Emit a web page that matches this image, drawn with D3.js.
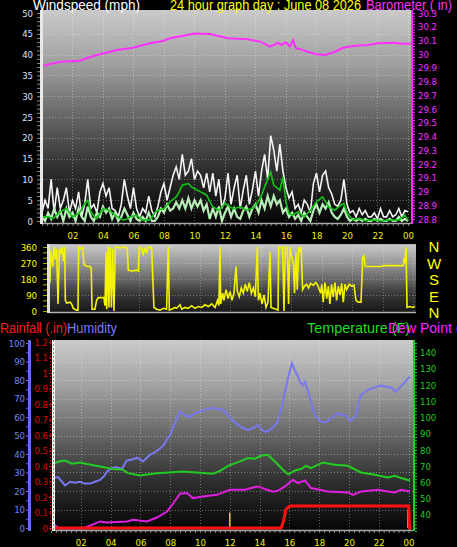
<!DOCTYPE html>
<html><head><meta charset="utf-8">
<script src="https://cdn.jsdelivr.net/npm/d3@7"></script>
<style>html,body{margin:0;padding:0;background:#000;overflow:hidden}svg{display:block}</style>
</head><body><svg id="c" width="457" height="547"></svg>
<script>
// ---------- DATA ----------
const timeTickHours = [2,4,6,8,10,12,14,16,18,20,22,24];
const timeTickLabels = ["02","04","06","08","10","12","14","16","18","20","22","00"];
const windTicks = [0,5,10,15,20,25,30,35,40,45,50];
const baroTicks = [28.8,28.9,29,29.1,29.2,29.3,29.4,29.5,29.6,29.7,29.8,29.9,30,30.1,30.2,30.3];
const dirTicks = [0,90,180,270,360];
const humTicks = [0,10,20,30,40,50,60,70,80,90,100];
const rainTicks = [0,0.1,0.2,0.3,0.4,0.5,0.6,0.7,0.8,0.9,1,1.1,1.2];
const tempTicks = [40,50,60,70,80,90,100,110,120,130,140];
const compass = ["N","W","S","E","N"];

// wind samples every 0.2 h from 00:00
const windStep = 0.2;
const windGust = [2,5,3,10,2,8,3,5,8,2, 5,3,7,1,4,10,3,4,2,7, 9,6,8,3,2.5,1,4,10,6,3, 8,3,1,3,2,6,2.5,1,3.5,7,
  9,5,8,11,13,10,16,11,12,15, 10,12,11,8,11.5,7,11.5,6,10,3, 5.5,11.5,4,8,11,3,7.5,11,4,7.5,
  12,6,12,16,10,20.5,17,12,18.5,12, 8,5.5,7,3,4,2,5,4,2,9, 11.5,7,11,12,8,6.5,4,3.5,5,10,
  4,2,2.5,1,3,1.5,2.5,1,1,2, 0.5,3,1,1,2.5,1,1.5,3,1,2.5, 2.2];
const windSpeed = [1,0,2,0.5,3,1,2.5,0,3,1, 2,0,3,1,0,3.5,1,0,2,1, 3.5,2,3,0.5,2,0,1,3,1.5,0, 2,0.5,0,1,0,2,0,0,1,3,
  2,4,2.5,3,4.5,3,5,3,5.5,3, 5,3.5,5,2.5,4,0.5,3,1,3.5,0, 2,3.5,1,3,1,0.5,2.5,3.5,1,3,
  4,2,5,3,6,3.5,6,4,5,2, 3,1,2,0.5,1.5,0,2,1,0,2.5, 4,2,4,3,4.5,2,1,0.5,1.5,3,
  1,0,0.5,0,0.5,0,0.5,0,0,0.5, 0,0.5,0,0,0.5,0,0,1,0,0.5, 0];
const windAvg = [1,1,1,0.7,0.8,1.5,2.2,2.6,3,2, 1,1.4,1.8,2.8,4.2,5,2.2,1.2,0.6,1.8, 3,2.8,2.6,2,1.4,0.9,0.4,0.2,0.6,1,
  1.2,1.4,0.8,0.2,0.2,0.2,0.8,2,2.6,2.8, 3,3.8,4.6,5.2,5.8,7,8.6,8.8,9,8.2, 7.8,7.4,7,6.6,6.2,4.8,3.4,3,2.6,3.4,
  4.2,3.8,3.2,3,3.2,3.4,3,2.6,2.8,3, 3.8,4.8,6.2,8.2,10,11.8,8.6,8,7.4,10.6, 4.5,1.8,1.4,1.8,2.2,1.5,1,1.8,2.6,3.6,
  4.6,5.2,5.8,4.6,3.4,3,2.6,3.2,3.8,4.2, 2,1,0.2,0.4,0.6,0.4,0,0.2,0.2,0.2, 0.2,0,0,0.2,0.2,0.2,0.2,0.2,0.8,1.4, 0.2];

// barometer [hour, inHg]
const baro = [[0.07,29.916],[1.18,29.945],[2.49,29.953],[3.15,29.98],[3.8,30.0],[4.92,30.03],[5.97,30.047],[7.08,30.08],
  [7.93,30.096],[8.39,30.116],[9.25,30.135],[10.03,30.15],[11.02,30.147],[12.2,30.116],[13.51,30.108],[14.36,30.09],
  [14.95,30.055],[15.28,30.072],[15.48,30.084],[15.67,30.067],[16.0,30.087],[16.26,30.055],[16.46,30.103],[16.66,30.043],
  [16.98,30.035],[17.44,30.018],[17.97,30.0],[18.56,29.994],[19.21,30.018],[19.74,30.047],[20.52,30.062],[21.38,30.067],
  [22.03,30.08],[23.15,30.084],[23.54,30.077],[24.2,30.077]];

// wind direction [hour, degrees]
const windDir = [[0.05,160],[0.16,160],[0.21,340],[0.34,250],[0.43,360],[0.51,290],[0.6,350],[0.69,40],[0.78,350],[0.86,320],
  [0.95,360],[1.04,280],[1.13,360],[1.17,60],[1.26,45],[1.48,50],[1.58,40],[1.69,15],[1.91,5],[2.0,5],[2.04,360],[2.17,350],
  [2.31,360],[2.39,260],[2.61,250],[2.79,250],[2.87,240],[2.92,10],[3.11,10],[3.22,60],[3.33,75],[3.55,75],[3.7,75],[3.77,30],
  [3.84,330],[3.88,10],[3.97,360],[4.03,20],[4.1,360],[4.19,20],[4.27,350],[4.36,0],[4.45,360],[4.75,355],[5.08,360],[5.23,350],
  [5.3,230],[5.52,225],[5.85,230],[5.96,225],[6.02,360],[6.17,350],[6.28,320],[6.39,350],[6.5,330],[6.61,360],[6.83,355],[6.98,20],
  [7.16,10],[7.38,5],[7.6,15],[7.81,10],[7.92,360],[7.99,5],[8.14,10],[8.36,20],[8.47,15],[8.69,35],[8.8,10],[9.02,20],[9.23,15],
  [9.45,30],[9.67,15],[9.89,25],[10.11,20],[10.33,35],[10.55,25],[10.77,40],[10.99,20],[11.15,60],[11.24,30],[11.31,360],[11.36,40],
  [11.49,100],[11.57,60],[11.71,120],[11.84,70],[11.97,110],[12.1,60],[12.23,100],[12.36,250],[12.45,110],[12.58,80],[12.71,130],
  [12.84,100],[12.97,150],[13.1,110],[13.23,160],[13.37,100],[13.5,130],[13.63,80],[13.76,360],[13.83,60],[13.93,100],[14.07,40],
  [14.2,90],[14.33,20],[14.46,50],[14.59,330],[14.66,20],[14.81,15],[14.99,10],[15.12,5],[15.16,360],[15.29,355],[15.42,360],
  [15.51,0],[15.6,360],[15.73,350],[15.81,40],[15.9,360],[16.03,300],[16.12,270],[16.2,100],[16.29,330],[16.38,120],[16.47,360],
  [16.56,340],[16.64,360],[16.73,120],[16.86,140],[16.99,150],[17.12,130],[17.25,155],[17.43,145],[17.6,160],[17.75,140],[17.91,100],
  [17.99,150],[18.08,50],[18.2,160],[18.31,70],[18.42,140],[18.52,40],[18.63,150],[18.74,80],[18.85,160],[18.96,60],[19.07,140],
  [19.18,90],[19.29,155],[19.4,50],[19.51,150],[19.62,120],[19.79,150],[19.95,140],[20.1,145],[20.23,60],[20.38,50],[20.56,50],
  [20.67,300],[20.75,310],[20.84,250],[21.37,250],[21.91,250],[22.02,255],[22.68,255],[23.33,255],[23.38,290],[23.44,280],
  [23.51,360],[23.58,20],[23.77,25],[23.95,20],[24.1,25]];

// humidity [hour, %]
const humidity = [[0.13,27],[0.47,27.5],[0.74,25],[0.94,23],[1.28,25],[1.61,24.5],[1.95,25],[2.28,24],[2.62,24],[2.95,25],
  [3.29,26],[3.56,28],[3.76,30.5],[4.03,32],[4.3,33],[4.77,32],[4.97,35],[5.1,36.5],[5.44,37],[5.77,38],[6.17,36],[6.44,38],
  [6.64,39.6],[6.98,41],[7.32,43],[7.58,45],[7.79,48],[7.99,50],[8.12,53],[8.39,58],[8.66,63],[8.99,61],[9.33,60],[9.66,62],
  [10.0,63],[10.4,64],[10.87,65],[11.21,64],[11.54,64],[11.88,61],[12.21,58],[12.55,55.7],[12.89,54],[13.22,53],[13.56,54],
  [13.89,55.7],[14.16,53],[14.43,52],[14.7,53],[14.97,55],[15.23,57.5],[15.5,66],[15.7,73.7],[15.97,83],[16.17,89],[16.38,85],
  [16.58,81.8],[16.71,79],[16.91,77],[17.05,79],[17.25,74],[17.38,70],[17.58,65],[17.72,61],[17.92,59],[18.12,57.5],[18.39,57],
  [18.59,58],[18.93,60],[19.26,62],[19.53,61],[19.73,61],[20.07,58],[20.27,59],[20.47,61],[20.6,66],[20.81,72],[21.07,73.5],
  [21.28,74.6],[21.74,76],[22.15,77],[22.48,76.5],[22.82,76],[23.15,73.7],[23.42,76],[23.76,79],[24.09,81.8]];

// temperature [hour, F]
const temperature = [[0.13,71.5],[0.6,73],[0.94,73.5],[1.41,71.5],[1.95,72.3],[2.42,71.3],[3.29,69.8],[4.16,68.2],[4.83,67.8],
  [5.17,65.7],[5.97,64.3],[7.11,65.7],[8.86,66.7],[10.0,66],[10.87,65.3],[11.34,67],[11.88,70.2],[12.55,72.5],[13.22,75],
  [13.69,74.6],[14.09,76.4],[14.56,77],[15.03,72.9],[15.57,67.8],[15.91,65],[16.38,67.3],[16.78,68.2],[17.11,70.2],[17.45,68.8],
  [18.26,72.3],[19.06,70.9],[19.93,70.2],[20.81,66.1],[21.74,64.7],[22.62,63],[23.09,64],[23.49,62.7],[24.09,61.2]];

// dew point [hour, F]
const dewPoint = [[0.13,34.3],[0.6,31.5],[2.15,31.5],[2.48,32.8],[3.29,35.9],[3.76,35.2],[5.1,35.9],[5.5,36.9],[6.44,35.9],
  [7.11,38.3],[7.79,42],[8.19,46.8],[8.66,53],[9.13,53.4],[9.53,50.3],[10.2,51.3],[11.14,52.3],[12.01,55.4],[13.02,55.4],
  [13.42,56.5],[13.89,57.5],[14.36,55.9],[14.9,54.2],[15.23,54.8],[15.7,57.5],[16.24,61.6],[16.58,59.6],[17.05,61.2],[17.45,56.5],
  [18.59,54.4],[19.93,53.8],[20.27,52.3],[20.81,54.4],[21.95,55.4],[22.62,54.4],[23.09,53.8],[23.49,55.4],[24.09,54.4]];

// rainfall total [hour, in] and rain-rate markers
const rainfall = [[0,0],[15.44,0],[15.6,0.04],[15.77,0.12],[16.04,0.142],[24.02,0.142],[24.06,0],[24.2,0]];
const rainRate = [[12.0,0.1],[23.96,0.115]];

// ---------- DRAW ----------
const svg = d3.select("#c");
const tickFont = "'Liberation Sans Narrow','DejaVu Sans Condensed','Liberation Sans',Arial,sans-serif";
const titleFont = "'Liberation Sans',Arial,sans-serif";
svg.append("rect").attr("width",457).attr("height",547).attr("fill","#000");
const defs = svg.append("defs");
function grad(id, stops){
  const g = defs.append("linearGradient").attr("id",id).attr("x1",0).attr("y1",0).attr("x2",0).attr("y2",1);
  stops.forEach(([o,c]) => g.append("stop").attr("offset",o).attr("stop-color",c));
}
grad("gTop", [[0,"#cacaca"],[0.25,"#a0a0a0"],[0.5,"#666"],[0.75,"#2e2e2e"],[1,"#050505"]]);
grad("gDir", [[0,"#cacaca"],[0.35,"#8a8a8a"],[0.7,"#3c3c3c"],[1,"#151515"]]);
function clip(id,x,y,w,h){ defs.append("clipPath").attr("id",id).append("rect").attr("x",x).attr("y",y).attr("width",w).attr("height",h); }

function styleAxis(g, color, size, lineColor){
  g.select(".domain").remove();
  g.selectAll("text").attr("fill", color).attr("font-size", size).attr("font-family", tickFont);
  g.selectAll("line").attr("stroke", lineColor || color);
}
function title(txt, x, y, color, len, size){
  const t = svg.append("text").attr("x",x).attr("y",y).attr("fill",color)
    .attr("font-family",titleFont).attr("font-size",size||14).text(txt);
  if (len) t.attr("textLength",len).attr("lengthAdjust","spacingAndGlyphs");
  return t;
}
const fmtTime = d => timeTickLabels[timeTickHours.indexOf(d)];

// ===== Panel 1: wind speed + barometer =====
const xTop = d3.scaleLinear().domain([0,24.2]).range([42,411]);
const yWind = d3.scaleLinear().domain([0,50]).range([221,13]);
const yBaro = d3.scaleLinear().domain([28.8,30.3]).range([219,13]);
svg.append("rect").attr("x",43).attr("y",10).attr("width",368).attr("height",213).attr("fill","url(#gTop)");
clip("cTop",43,10,368,213);
const g1 = svg.append("g").attr("clip-path","url(#cTop)");
// grid
g1.selectAll(".vg").data(timeTickHours).join("line")
  .attr("x1",d=>Math.round(xTop(d))+0.5).attr("x2",d=>Math.round(xTop(d))+0.5).attr("y1",10).attr("y2",223)
  .attr("stroke","#fff").attr("stroke-opacity",0.35).attr("stroke-dasharray","1,2");
g1.selectAll(".hg").data(windTicks.slice(1,-1)).join("line")
  .attr("x1",43).attr("x2",411).attr("y1",d=>Math.round(yWind(d))+0.5).attr("y2",d=>Math.round(yWind(d))+0.5)
  .attr("stroke","#fff").attr("stroke-opacity",0.35).attr("stroke-dasharray","1,2");
const windLine = arr => d3.line().x((d,i)=>xTop(i*windStep)).y(d=>yWind(d))(arr);
g1.append("path").attr("d",windLine(windGust)).attr("fill","none").attr("stroke","#f4f4f4").attr("stroke-width",1.6);
g1.append("path").attr("d",windLine(windSpeed)).attr("fill","none").attr("stroke","#b8eeb8").attr("stroke-width",2.2);
g1.append("path").attr("d",windLine(windAvg)).attr("fill","none").attr("stroke","#12c412").attr("stroke-width",1.6);
g1.append("path").attr("d",d3.line().x(d=>xTop(d[0])).y(d=>yBaro(d[1]))(baro))
  .attr("fill","none").attr("stroke","#ff30ff").attr("stroke-width",2);
// frame pieces
svg.append("line").attr("x1",43).attr("x2",411).attr("y1",223.5).attr("y2",223.5).attr("stroke","#a8a8a8").attr("stroke-width",1.5);
svg.append("rect").attr("x",40).attr("y",10).attr("width",3).attr("height",214).attr("fill","#e8e8e8");
svg.append("rect").attr("x",411).attr("y",10).attr("width",2).attr("height",214).attr("fill","#ff30ff");
// axes
const aWindMinor = svg.append("g").attr("transform","translate(40,0)")
  .call(d3.axisLeft(yWind).tickValues(d3.range(0,50.1,1)).tickSize(3).tickFormat(""));
styleAxis(aWindMinor,"#999","9","#8a8a8a");
const aWind = svg.append("g").attr("transform","translate(35,0)")
  .call(d3.axisLeft(yWind).tickValues(windTicks).tickSize(0).tickPadding(2));
styleAxis(aWind,"#d8e4ff","9.5");
const aBaroMinor = svg.append("g").attr("transform","translate(413,0)")
  .call(d3.axisRight(yBaro).tickValues(d3.range(28.8,30.301,0.02)).tickSize(2).tickFormat(""));
styleAxis(aBaroMinor,"#ff30ff","9");
const aBaro = svg.append("g").attr("transform","translate(416,0)")
  .call(d3.axisRight(yBaro).tickValues(baroTicks).tickSize(0).tickPadding(2).tickFormat(d=>String(+d.toFixed(1))));
styleAxis(aBaro,"#ff30ff","9.5");
const aT1Minor = svg.append("g").attr("transform","translate(0,224)")
  .call(d3.axisBottom(xTop).tickValues(d3.range(0,24.2,1/3)).tickSize(2).tickFormat(""));
styleAxis(aT1Minor,"#888","9");
const aT1 = svg.append("g").attr("transform","translate(0,231)")
  .call(d3.axisBottom(xTop).tickValues(timeTickHours).tickSize(0).tickPadding(1).tickFormat(fmtTime));
styleAxis(aT1,"#f0f000","9.5");
title("Windspeed (mph)",33,10,"#ffffff",107);
title("24 hour graph day : June 08 2026",170,10,"#ffff00",191);
title("Barometer ( in)",366,10,"#ff30ff",86);

// ===== Panel 2: wind direction =====
const xDir = d3.scaleLinear().domain([0,24.2]).range([47.5,416.5]);
const yDir = d3.scaleLinear().domain([0,360]).range([311,247]);
svg.append("rect").attr("x",49).attr("y",244).attr("width",367).attr("height",69).attr("fill","url(#gDir)");
clip("cDir",49,244,367,69);
const g2 = svg.append("g").attr("clip-path","url(#cDir)");
g2.selectAll(".vg").data(timeTickHours).join("line")
  .attr("x1",d=>Math.round(xDir(d))+0.5).attr("x2",d=>Math.round(xDir(d))+0.5).attr("y1",244).attr("y2",313)
  .attr("stroke","#fff").attr("stroke-opacity",0.3).attr("stroke-dasharray","1,2");
g2.selectAll(".hg").data([90,180,270]).join("line")
  .attr("x1",49).attr("x2",416).attr("y1",d=>Math.round(yDir(d))+0.5).attr("y2",d=>Math.round(yDir(d))+0.5)
  .attr("stroke","#fff").attr("stroke-opacity",0.3).attr("stroke-dasharray","1,2");
g2.append("path").attr("d",d3.line().x(d=>xDir(d[0])).y(d=>yDir(d[1]))(windDir))
  .attr("fill","none").attr("stroke","#f4f400").attr("stroke-width",1.6);
svg.append("line").attr("x1",49).attr("x2",416).attr("y1",244.5).attr("y2",244.5).attr("stroke","#b0b0b0");
svg.append("line").attr("x1",49).attr("x2",416).attr("y1",312.5).attr("y2",312.5).attr("stroke","#b0b0b0").attr("stroke-width",1.5);
svg.append("rect").attr("x",47).attr("y",244).attr("width",3).attr("height",69).attr("fill","#e0e0e0");
const aDirMinor = svg.append("g").attr("transform","translate(47,0)")
  .call(d3.axisLeft(yDir).tickValues(d3.range(0,361,30)).tickSize(4).tickFormat(""));
styleAxis(aDirMinor,"#a8a800");
const aDir = svg.append("g").attr("transform","translate(39,0)")
  .call(d3.axisLeft(yDir).tickValues(dirTicks).tickSize(0).tickPadding(2));
styleAxis(aDir,"#ffff00","9.5");
svg.selectAll(".cmp").data(compass).join("text")
  .attr("x",434).attr("y",(d,i)=>252+i*16.5).attr("text-anchor","middle")
  .attr("fill","#ffff00").attr("font-family",titleFont).attr("font-size",15).text(d=>d);

// ===== Panel 3: humidity / rain / temperature =====
const x3 = d3.scaleLinear().domain([0,24.3]).range([51,413]);
const yHum = d3.scaleLinear().domain([0,100]).range([528,343]);
const yRain = d3.scaleLinear().domain([0,1.2]).range([528,342]);
const yTemp = d3.scaleLinear().domain([30,146]).range([531,343]);
svg.append("rect").attr("x",55).attr("y",340).attr("width",358).attr("height",190).attr("fill","url(#gTop)");
clip("c3",55,340,358,190);
const g3 = svg.append("g").attr("clip-path","url(#c3)");
g3.selectAll(".vg").data(timeTickHours).join("line")
  .attr("x1",d=>Math.round(x3(d))+0.5).attr("x2",d=>Math.round(x3(d))+0.5).attr("y1",340).attr("y2",530)
  .attr("stroke","#fff").attr("stroke-opacity",0.35).attr("stroke-dasharray","1,2");
g3.selectAll(".hg").data(humTicks.slice(1,-1)).join("line")
  .attr("x1",55).attr("x2",413).attr("y1",d=>Math.round(yHum(d))+0.5).attr("y2",d=>Math.round(yHum(d))+0.5)
  .attr("stroke","#fff").attr("stroke-opacity",0.35).attr("stroke-dasharray","1,2");
const line3 = ys => d3.line().x(d=>x3(d[0])).y(d=>ys(d[1]));
g3.append("path").attr("d",line3(yHum)(humidity)).attr("fill","none").attr("stroke","#7878f0").attr("stroke-width",2);
g3.append("path").attr("d",line3(yTemp)(temperature)).attr("fill","none").attr("stroke","#22cc22").attr("stroke-width",2);
g3.append("path").attr("d",line3(yTemp)(dewPoint)).attr("fill","none").attr("stroke","#e020e0").attr("stroke-width",2);
g3.selectAll(".rr").data(rainRate).join("line")
  .attr("x1",d=>x3(d[0])).attr("x2",d=>x3(d[0])).attr("y1",yRain(0)).attr("y2",d=>yRain(d[1]))
  .attr("stroke","#e8d000").attr("stroke-width",1.5);
g3.append("path").attr("d",line3(yRain)(rainfall)).attr("fill","none").attr("stroke","#ff1010").attr("stroke-width",3);
svg.append("line").attr("x1",55).attr("x2",413).attr("y1",530.5).attr("y2",530.5).attr("stroke","#a8a8a8").attr("stroke-width",1.5);
// axis bars
svg.append("rect").attr("x",28).attr("y",340).attr("width",3).attr("height",191).attr("fill","#6a6af0");
svg.append("line").attr("x1",50.5).attr("x2",50.5).attr("y1",340).attr("y2",531).attr("stroke","#d01010").attr("stroke-dasharray","1,2");
svg.append("rect").attr("x",52).attr("y",340).attr("width",3).attr("height",191).attr("fill","#f4f4f4");
svg.append("line").attr("x1",53.5).attr("x2",53.5).attr("y1",340).attr("y2",531).attr("stroke","#ff6060").attr("stroke-dasharray","2,2");
svg.append("rect").attr("x",413).attr("y",340).attr("width",2).attr("height",191).attr("fill","#22cc22");
const aHumMinor = svg.append("g").attr("transform","translate(28,0)")
  .call(d3.axisLeft(yHum).tickValues(d3.range(0,100.1,5)).tickSize(2).tickFormat(""));
styleAxis(aHumMinor,"#6a6af0");
const aHum = svg.append("g").attr("transform","translate(27,0)")
  .call(d3.axisLeft(yHum).tickValues(humTicks).tickSize(0).tickPadding(2));
styleAxis(aHum,"#6f86ff","9.5");
const aRainMinor = svg.append("g").attr("transform","translate(52,0)")
  .call(d3.axisLeft(yRain).tickValues(rainTicks).tickSize(3).tickFormat(""));
styleAxis(aRainMinor,"#e01010");
const aRain = svg.append("g").attr("transform","translate(50,0)")
  .call(d3.axisLeft(yRain).tickValues(rainTicks).tickSize(0).tickPadding(2).tickFormat(d=>String(+d.toFixed(1))));
styleAxis(aRain,"#e00000","9.5");
const aTempMinor = svg.append("g").attr("transform","translate(415,0)")
  .call(d3.axisRight(yTemp).tickValues(d3.range(30,146.1,2)).tickSize(2).tickFormat(""));
styleAxis(aTempMinor,"#22cc22");
const aTemp = svg.append("g").attr("transform","translate(418,0)")
  .call(d3.axisRight(yTemp).tickValues(tempTicks).tickSize(0).tickPadding(2));
styleAxis(aTemp,"#22cc22","9.5");
const aT3Minor = svg.append("g").attr("transform","translate(0,531)")
  .call(d3.axisBottom(x3).tickValues(d3.range(0,24.3,1/3)).tickSize(2).tickFormat(""));
styleAxis(aT3Minor,"#888","9");
const aT3 = svg.append("g").attr("transform","translate(0,538)")
  .call(d3.axisBottom(x3).tickValues(timeTickHours).tickSize(0).tickPadding(1).tickFormat(fmtTime));
styleAxis(aT3,"#f0f000","9.5");
title("Rainfall (.in)",0,333,"#ff1a1a",67);
title("Humidity",67,333,"#7a7aff",50);
title("Temperature (F)",307,333,"#22dd22",103);
title("Dew Point (F)",388,333,"#ff22ff");
</script></body></html>
